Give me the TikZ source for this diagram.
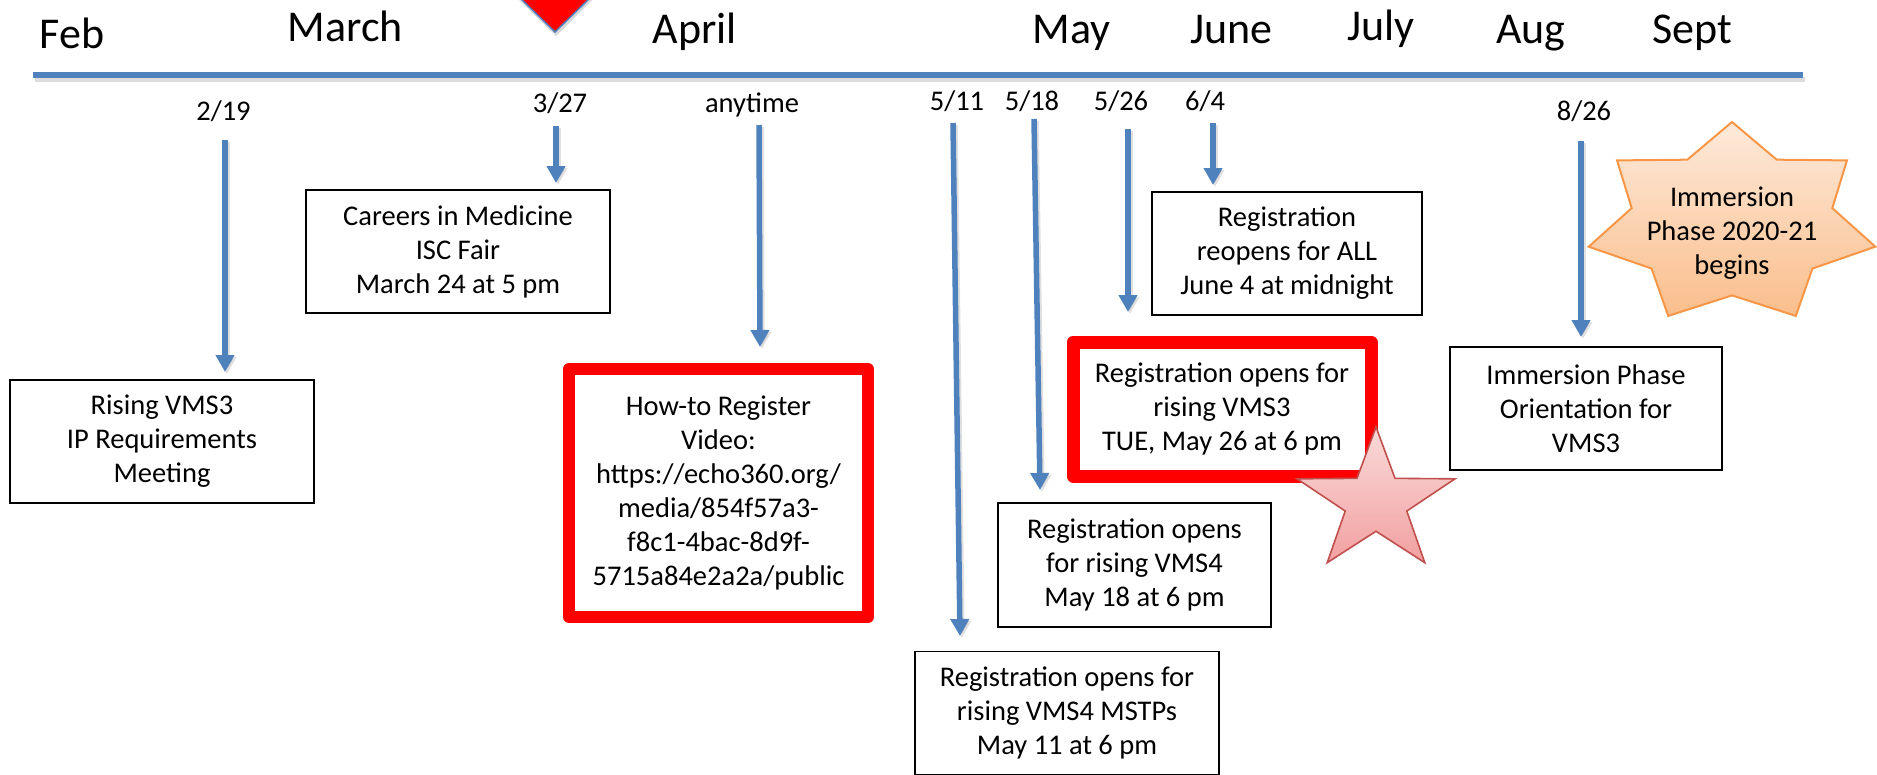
\documentclass[tikz,border=0pt]{standalone}
\usepackage{fontspec}
\setmainfont{Carlito}
\usetikzlibrary{arrows.meta,calc}
\definecolor{tlblue}{RGB}{79,129,189}
\definecolor{staror}{RGB}{247,150,70}
\definecolor{starortop}{RGB}{253,234,218}
\definecolor{starorbot}{RGB}{250,190,140}
\definecolor{starrd}{RGB}{192,80,77}
\definecolor{starrdtop}{RGB}{250,218,218}
\definecolor{starrdbot}{RGB}{242,160,160}
\begin{document}
\begin{tikzpicture}[x=1pt,y=-1pt,
  month/.style={font=\fontsize{44}{52}\selectfont, anchor=base, inner sep=0pt},
  datelbl/.style={font=\fontsize{28.5}{34}\selectfont, anchor=base, inner sep=0pt},
  evbox/.style={draw=black, line width=1.8pt, fill=white, inner sep=0pt, outer sep=0pt,
    align=center, font=\fontsize{28.5}{34}\selectfont},
  redbox/.style={evbox, draw=red, line width=12pt, line join=round},
  arr/.style={draw=tlblue, line width=5.5pt, -{Triangle[width=18pt,length=17pt]}},
  arrshadow/.style={draw=black, opacity=0.12, line width=5.5pt, -{Triangle[width=18pt,length=17pt]}, transform canvas={shift={(2pt,-2pt)}}}
]
\useasboundingbox (0,0) rectangle (1877,774);
\clip (0,0) rectangle (1877,774);

% red marker triangle at top
\path[fill=black, opacity=0.15] (478,-40) -- (632,-40) -- (556,36) -- cycle;
\path[fill=red, draw=tlblue, line width=1.5pt] (481,-40) -- (629,-40) -- (555,32) -- cycle;

% months
\node[month] (mFeb)   at (72,48)    {Feb};
\node[month] (mMar)   at (345.5,41) {March};
\node[month] (mApr)   at (695,43)   {April};
\node[month] (mMay)   at (1071.5,43){May};
\node[month] (mJun)   at (1231.5,43){June};
\node[month] (mJul)   at (1381,40)  {July};
\node[month] (mAug)   at (1531,43)  {Aug};
\node[month] (mSep)   at (1692,43)  {Sept};

% axis
\coordinate (axL) at (33,75);
\coordinate (axR) at (1803,75);
\draw[line width=5pt, black!30, opacity=0.45] ($(axL)+(2,4)$) -- ($(axR)+(2,4)$);
\draw[line width=5.5pt, tlblue] (axL) -- (axR);

% dates
\node[datelbl] (d219)  at (223.5,120) {2/19};
\node[datelbl] (d327)  at (560,112)   {3/27};
\node[datelbl] (dany)  at (752,112)   {anytime};
\node[datelbl] (d511)  at (957,110)   {5/11};
\node[datelbl] (d518)  at (1032,110)  {5/18};
\node[datelbl] (d526)  at (1121,110)  {5/26};
\node[datelbl] (d64)   at (1205,110)  {6/4};
\node[datelbl] (d826)  at (1584,120)  {8/26};

% event boxes
\node[evbox, minimum width=304pt, minimum height=123pt] (rising) at (162,441.5)
  {Rising VMS3\\IP Requirements\\Meeting};
\node[evbox, minimum width=304pt, minimum height=123pt] (careers) at (458,251.5)
  {Careers in Medicine\\ISC Fair\\March 24 at 5 pm};
\node[redbox, minimum width=299pt, minimum height=248pt] (howto) at (718.5,493)
  {How-to Register\\Video:\\https://echo360.org/\\media/854f57a3-\\f8c1-4bac-8d9f-\\5715a84e2a2a/public};
\node[evbox, minimum width=304pt, minimum height=123pt] (mstp) at (1067,713)
  {Registration opens for\\rising VMS4 MSTPs\\May 11 at 6 pm};
\node[evbox, minimum width=273pt, minimum height=124pt] (vms4) at (1134.5,565)
  {Registration opens\\for rising VMS4\\May 18 at 6 pm};
\node[redbox, line width=13pt, minimum width=298pt, minimum height=134pt] (vms3) at (1222,409)
  {Registration opens for\\rising VMS3\\TUE, May 26 at 6 pm};
\node[evbox, minimum width=270pt, minimum height=123pt] (reopen) at (1287,253.5)
  {Registration\\reopens for ALL\\June 4 at midnight};
\node[evbox, minimum width=272pt, minimum height=123pt] (orient) at (1586,408.5)
  {Immersion Phase\\Orientation for\\VMS3};

% arrows
\coordinate (s219) at (225,140);  \coordinate (t219) at (225,372);
\coordinate (s327) at (556,126);  \coordinate (t327) at (556,183);
\coordinate (sany) at (759,125);  \coordinate (tany) at (760,347);
\coordinate (s511) at (953,123);  \coordinate (t511) at (960,636);
\coordinate (s518) at (1034,119); \coordinate (t518) at (1040,490);
\coordinate (s526) at (1128,129); \coordinate (t526) at (1128,312);
\coordinate (s64)  at (1213,123); \coordinate (t64)  at (1213,185);
\coordinate (s826) at (1581,141); \coordinate (t826) at (1581,337);
\foreach \a in {219,327,any,511,518,526,64,826} {
  \draw[arrshadow] (s\a) -- (t\a);
  \draw[arr] (s\a) -- (t\a);
}

% pink five-point star
\path[draw=starrd, line width=1.6pt, top color=starrdtop, bottom color=starrdbot, line join=miter]
  (1376,427) \foreach \i in {0,...,4} {
    -- ({1376+83*0.39*cos(90+\i*72+36)}, {502-75*0.39*sin(90+\i*72+36)})
    -- ({1376+83*cos(90+(\i+1)*72)}, {502-75*sin(90+(\i+1)*72)}) } -- cycle;

% orange seven-point star
\path[draw=staror, line width=2pt, top color=starortop, bottom color=starorbot, line join=miter]
  (1732,122) \foreach \i in {0,...,6} {
    -- ({1732+147*0.7*cos(90+\i*360/7+180/7)}, {224-102*0.7*sin(90+\i*360/7+180/7)})
    -- ({1732+147*cos(90+(\i+1)*360/7)}, {224-102*sin(90+(\i+1)*360/7)}) } -- cycle;
\node[align=center, font=\fontsize{28.5}{34}\selectfont, inner sep=0pt] (startxt) at (1732,233)
  {Immersion\\Phase 2020-21\\begins};
\end{tikzpicture}
\end{document}
